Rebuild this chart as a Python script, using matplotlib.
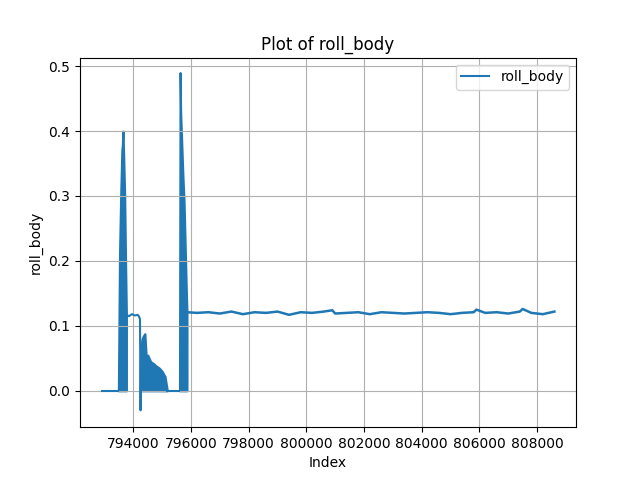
import matplotlib
matplotlib.use("Agg")
import matplotlib.pyplot as plt

# flat / line parts (index, value)
pre_x = [792900, 793480]
pre_y = [0.0, 0.0]

mid_x = [793760, 793850, 793950, 794050, 794150, 794200, 794230, 794250, 794270]
mid_y = [0.117, 0.115, 0.118, 0.116, 0.117, 0.114, 0.11, -0.03, 0.07]

gap_x = [795180, 795600]
gap_y = [0.0, 0.0]

tail_x = [795860, 796200, 796600, 797000, 797400, 797800, 798200, 798600, 799000,
          799400, 799800, 800200, 800600, 800900, 801000, 801400, 801800, 802200,
          802600, 803000, 803400, 803800, 804200, 804600, 805000, 805400, 805800,
          805900, 806200, 806600, 807000, 807400, 807500, 807800, 808200, 808600]
tail_y = [0.121, 0.12, 0.121, 0.119, 0.122, 0.118, 0.121, 0.12, 0.122,
          0.117, 0.121, 0.12, 0.122, 0.124, 0.119, 0.12, 0.121, 0.118,
          0.121, 0.12, 0.119, 0.12, 0.121, 0.12, 0.118, 0.12, 0.121,
          0.125, 0.12, 0.121, 0.119, 0.122, 0.126, 0.12, 0.118, 0.122]

# oscillating bursts: upper envelope (lower envelope is 0)
b1_x = [793480, 793520, 793560, 793600, 793620, 793640, 793660, 793700, 793730, 793760]
b1_y = [0.0, 0.21, 0.30, 0.37, 0.38, 0.40, 0.37, 0.30, 0.20, 0.117]

b2_x = [794270, 794300, 794350, 794400, 794450, 794500, 794600, 794700, 794800,
        794900, 795000, 795100, 795180]
b2_y = [0.07, 0.08, 0.085, 0.088, 0.05, 0.055, 0.045, 0.042, 0.038,
        0.035, 0.03, 0.022, 0.0]

b3_x = [795600, 795620, 795640, 795680, 795720, 795760, 795800, 795840, 795860]
b3_y = [0.0, 0.49, 0.43, 0.38, 0.33, 0.29, 0.22, 0.15, 0.121]

fig, ax = plt.subplots(figsize=(6.4, 4.8))
c = "#1f77b4"
for bx, by in ((b1_x, b1_y), (b2_x, b2_y), (b3_x, b3_y)):
    ax.fill_between(bx, 0, by, color=c, linewidth=1.5, edgecolor=c)
ax.plot(pre_x, pre_y, color=c, label="roll_body")
ax.plot(mid_x, mid_y, color=c)
ax.plot(gap_x, gap_y, color=c)
ax.plot(tail_x, tail_y, color=c, linewidth=1.8)

ax.set_xlim(792150, 809350)
ax.set_ylim(-0.056, 0.513)
ax.set_xticks(range(794000, 808001, 2000))
ax.set_title("Plot of roll_body")
ax.set_xlabel("Index")
ax.set_ylabel("roll_body")
ax.grid(True)
ax.legend(loc="upper right")
fig.savefig("out.png", dpi=100)
